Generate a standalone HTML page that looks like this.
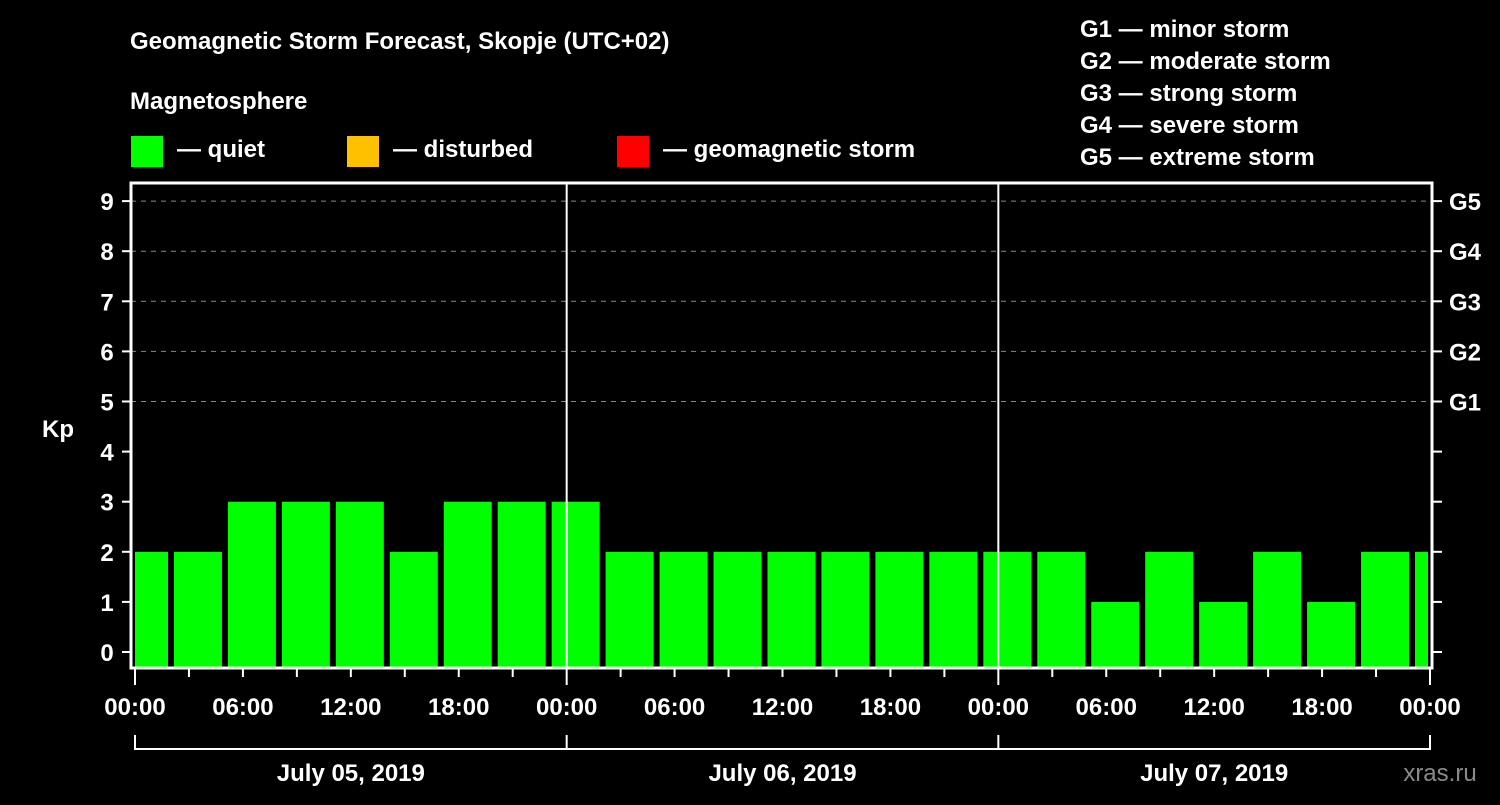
<!DOCTYPE html>
<html><head><meta charset="utf-8"><style>
html,body{margin:0;padding:0;background:#000;}
svg text{font-family:"Liberation Sans",sans-serif;font-weight:bold;fill:#fff;}
</style></head><body>
<svg id="c" width="1500" height="800" xmlns="http://www.w3.org/2000/svg">
<rect width="1500" height="800" fill="#000"/>
<text x="130" y="49" font-size="24">Geomagnetic Storm Forecast, Skopje (UTC+02)</text>
<text x="130" y="109" font-size="24">Magnetosphere</text>
<g><rect x="131" y="136" width="32" height="31" fill="#00ff00"/><text x="177" y="157" font-size="24">— quiet</text></g>
<g><rect x="347" y="136" width="32" height="31" fill="#ffc000"/><text x="393" y="157" font-size="24">— disturbed</text></g>
<g><rect x="617" y="136" width="32" height="31" fill="#ff0000"/><text x="663" y="157" font-size="24">— geomagnetic storm</text></g>
<g font-size="24">
<text x="1080" y="37">G1 — minor storm</text>
<text x="1080" y="69">G2 — moderate storm</text>
<text x="1080" y="101">G3 — strong storm</text>
<text x="1080" y="133">G4 — severe storm</text>
<text x="1080" y="165">G5 — extreme storm</text>
</g>
<text x="42" y="437" font-size="24">Kp</text>
<text x="1440" y="781" font-size="24" fill="#888" style="fill:#8a8a8a;font-weight:normal" text-anchor="middle">xras.ru</text>
<g id="grid"></g><g id="bars"></g><g id="axes"></g>
</svg>
<script>
const kpValues=[2,2,3,3,3,2,3,3,3,2,2,2,2,2,2,2,2,2,1,2,1,2,1,2,2];
const yTicks=[0,1,2,3,4,5,6,7,8,9];
const gLabels=["G1","G2","G3","G4","G5"];
const gLevels=[5,6,7,8,9];
const xTickLabels=["00:00","06:00","12:00","18:00","00:00","06:00","12:00","18:00","00:00","06:00","12:00","18:00","00:00"];
const dayLabels=["July 05, 2019","July 06, 2019","July 07, 2019"];
const NS="http://www.w3.org/2000/svg";
const L=131,R=1432,T=183,B=668;
const x=h=>135+h*(1295/72);
const y=v=>652-v*50.1;
function mk(tag,attrs,parent,txt){const e=document.createElementNS(NS,tag);for(const k in attrs)e.setAttribute(k,attrs[k]);if(txt!==undefined)e.textContent=txt;parent.appendChild(e);return e;}
const grid=document.getElementById('grid'),bars=document.getElementById('bars'),axes=document.getElementById('axes');
gLevels.forEach((lv,i)=>{
 const ln=mk('line',{x1:L,x2:R,y1:y(lv),y2:y(lv),stroke:'#888','stroke-width':1,'stroke-dasharray':'5,5'},grid);
 
 
 const t=mk('text',{x:1449,y:y(lv)+9,'font-size':24},axes,gLabels[i]);
 
 
});
kpValues.forEach((v,i)=>{
 const c=x(3*i+0.5);
 let x1=Math.max(c-24,x(0)),x2=Math.min(c+24,x(72)-2);
 const col=v>=5?'#ff0000':(v>=4?'#ffc000':'#00ff00');
 const r=mk('rect',{x:x1,y:y(v),width:x2-x1,height:B-y(v),fill:col},bars);
 
 
});
[1,2].forEach(d=>{const l=mk('line',{x1:x(24*d),x2:x(24*d),y1:T,y2:B,stroke:'#fff','stroke-width':2},axes);
 
 });
const fr=mk('rect',{x:L,y:T,width:R-L,height:B-T,fill:'none',stroke:'#fff','stroke-width':3},axes);


yTicks.forEach(v=>{
 mk('line',{x1:122,x2:L,y1:y(v),y2:y(v),stroke:'#fff','stroke-width':2},axes);
 mk('line',{x1:R,x2:1442,y1:y(v),y2:y(v),stroke:'#fff','stroke-width':2},axes);
 const t=mk('text',{x:107,y:y(v)+9,'font-size':24,'text-anchor':'middle'},axes,String(v));
 
 
});
for(let h=0;h<=72;h+=3){const maj=h%6===0;mk('line',{x1:x(h),x2:x(h),y1:B,y2:B+(h%24===0?17:9),stroke:'#fff','stroke-width':2},axes);}
xTickLabels.forEach((s,i)=>{const t=mk('text',{x:x(6*i),y:715,'font-size':24,'text-anchor':'middle'},axes,s);
 
 });
mk('line',{x1:x(0),x2:x(72),y1:749,y2:749,stroke:'#fff','stroke-width':2},axes);
for(let d=0;d<=3;d++)mk('line',{x1:x(24*d),x2:x(24*d),y1:735,y2:750,stroke:'#fff','stroke-width':2},axes);
dayLabels.forEach((s,i)=>{const t=mk('text',{x:x(24*i+12),y:781,'font-size':24,'text-anchor':'middle'},axes,s);
 
 });
</script>
</body></html>
